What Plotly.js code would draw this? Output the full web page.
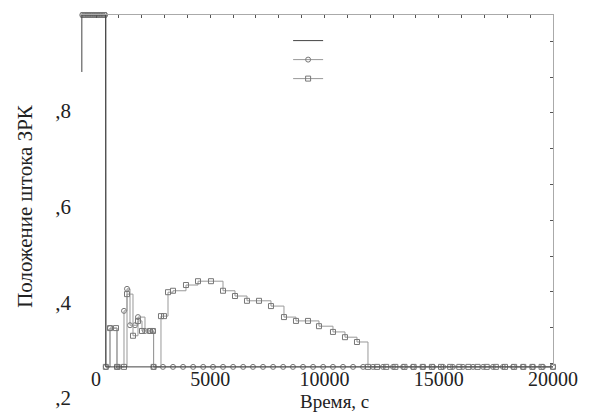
<!DOCTYPE html>
<html>
<head>
<meta charset="utf-8">
<script src="https://cdn.plot.ly/plotly-3.0.1.min.js"></script>
<style>
html,body{margin:0;padding:0;background:#fff}
#chart text, #chart tspan { font-family: 'Liberation Serif', 'Times New Roman', serif !important; }
</style>
</head>
<body>
<div id="chart" style="width:593px;height:414px"></div>
<script>
// Series 1: line only
const lineT = [-620, -620, 420, 430, 20000];
const lineV = [0.881, 1.000, 1.000, 0.265, 0.265];

// Series 2: circles
const circT = [-600, -500, -400, -300, -200, -100, 0, 100, 200, 300, 400, 430, 613, 919, 1006, 1225, 1357, 1488, 1707, 1838, 2144, 2363, 2494, 2520,
  2930, 3370, 3810, 4250, 4690, 5120, 5560, 6000, 6440, 6870, 7310, 7750, 8190, 8620, 9060, 9500, 9940, 10370, 10810, 11250, 11690,
  12120, 12560, 13000, 13440, 13870, 14310, 14750, 15190, 15620, 16060, 16500, 16940, 17370, 17810, 18250, 18690, 19120, 19560, 20000];
const circV = [1.0, 1.0, 1.0, 1.0, 1.0, 1.0, 1.0, 1.0, 1.0, 1.0, 1.0, 0.265, 0.346, 0.265, 0.265, 0.382, 0.428, 0.352, 0.352, 0.369, 0.340, 0.340, 0.340, 0.265,
  0.265, 0.265, 0.265, 0.265, 0.265, 0.265, 0.265, 0.265, 0.265, 0.265, 0.265, 0.265, 0.265, 0.265, 0.265, 0.265, 0.265, 0.265, 0.265, 0.265, 0.265,
  0.265, 0.265, 0.265, 0.265, 0.265, 0.265, 0.265, 0.265, 0.265, 0.265, 0.265, 0.265, 0.265, 0.265, 0.265, 0.265, 0.265, 0.265, 0.265];

// Series 3: squares
const sqT = [-550, -450, -350, -250, -150, -50, 50, 150, 250, 350, 430, 613, 875, 919, 1225, 1357, 1619, 1838, 2013, 2363, 2494, 2520, 2844, 2976, 3151,
  3370, 3938, 4464, 5032, 5558, 6083, 6608, 7133, 7658, 8227, 8752, 9277, 9758, 10371, 10896, 11421, 11903,
  12300, 12700, 13100, 13500, 13900, 14300, 14700, 15100, 15500, 15900, 16300, 16700, 17100, 17500, 17900, 18300, 18700, 19100, 19500, 20000];
const sqV = [1.0, 1.0, 1.0, 1.0, 1.0, 1.0, 1.0, 1.0, 1.0, 1.0, 0.265, 0.346, 0.346, 0.265, 0.265, 0.417, 0.330, 0.361, 0.340, 0.340, 0.340, 0.265, 0.371, 0.371, 0.421,
  0.424, 0.436, 0.444, 0.444, 0.424, 0.413, 0.403, 0.403, 0.392, 0.369, 0.361, 0.361, 0.350, 0.338, 0.327, 0.317, 0.265,
  0.265, 0.265, 0.265, 0.265, 0.265, 0.265, 0.265, 0.265, 0.265, 0.265, 0.265, 0.265, 0.265, 0.265, 0.265, 0.265, 0.265, 0.265, 0.265, 0.265];

const xTicks = [0, 5000, 10000, 15000, 20000];
const xTickText = ['0', '5000', '10000', '15000', '20000'];
const yTicks = [0.2, 0.4, 0.6, 0.8];
const yTickText = [',2', ',4', ',6', ',8'];

const traces = [
  {x: circT, y: circV, type: 'scatter', mode: 'lines+markers', name: ' ', legendrank: 2, cliponaxis: false, line: {color: '#999', width: 1, shape: 'hv'},
   marker: {symbol: 'circle-open', size: 5, color: '#777', line: {width: 1}}},
  {x: sqT, y: sqV, type: 'scatter', mode: 'lines+markers', name: ' ', legendrank: 3, cliponaxis: false, line: {color: '#999', width: 1, shape: 'hv'},
   marker: {symbol: 'square-open', size: 5, color: '#777', line: {width: 1}}},
  {x: lineT, y: lineV, type: 'scatter', mode: 'lines', name: ' ', legendrank: 1, line: {color: '#444', width: 1}},
  {x: [], y: [], xaxis: 'x2', yaxis: 'y2', type: 'scatter', mode: 'lines', showlegend: false, hoverinfo: 'skip'}
];

const layout = {
  width: 593, height: 414,
  margin: {l: 80, r: 40, t: 15, b: 16},
  paper_bgcolor: '#fff', plot_bgcolor: 'rgba(0,0,0,0)',
  font: {family: 'Liberation Serif', color: '#222', size: 19},
  showlegend: true,
  legend: {x: 0.44, y: 0.971, xanchor: 'left', yanchor: 'top', bgcolor: 'rgba(0,0,0,0)', font: {family: 'Liberation Serif', size: 6}, itemwidth: 30},
  xaxis: {
    range: [-700, 20000], anchor: 'free', position: 0.085,
    showline: false, showgrid: false, zeroline: false, ticks: '',
    tickvals: xTicks, ticktext: xTickText, tickfont: {family: 'Liberation Serif', size: 20, color: '#222'}
  },
  yaxis: {
    range: [0.2, 1.0], domain: [0, 1],
    showline: false, showgrid: false, zeroline: false, ticks: '',
    tickvals: yTicks, ticktext: yTickText, ticklabelstandoff: 8,
    tickfont: {family: 'Liberation Serif', size: 21, color: '#222'},
    title: {text: 'Положение штока ЗРК', font: {family: 'Liberation Serif', size: 21, color: '#222'}, standoff: 16}
  },
  xaxis2: {
    range: [-700, 20000], overlaying: 'x', anchor: 'y2', side: 'top',
    showline: true, linecolor: '#aaa', linewidth: 1, showgrid: false, zeroline: false,
    ticks: 'inside', ticklen: 3, tickcolor: '#555', dtick: 1000, tick0: 0, showticklabels: false
  },
  yaxis2: {
    range: [0.265, 1.0], domain: [0.0836, 1], anchor: 'x2', side: 'right',
    showline: true, linecolor: '#aaa', linewidth: 1, showgrid: false, zeroline: false,
    ticks: 'inside', ticklen: 3, tickcolor: '#555', dtick: 0.075, tick0: 0.27, showticklabels: false
  },
  annotations: [
    {text: 'Время, с', xref: 'paper', yref: 'paper', x: 0.539, y: -0.041, xanchor: 'center', yanchor: 'bottom',
     showarrow: false, font: {family: 'Liberation Serif', size: 19, color: '#222'}}
  ]
};

Plotly.newPlot('chart', traces, layout, {displayModeBar: false, staticPlot: true});
</script>
</body>
</html>
